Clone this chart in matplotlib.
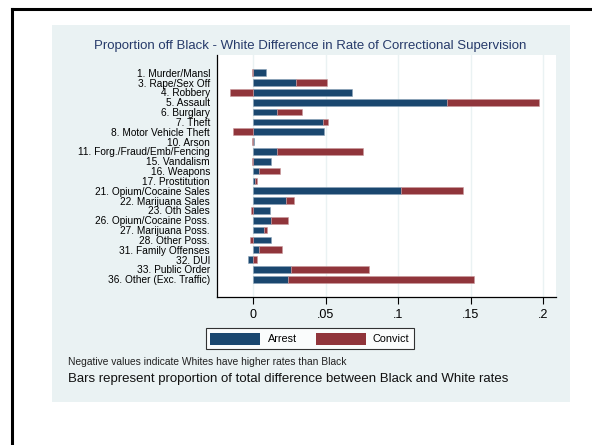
import numpy as np
import matplotlib
matplotlib.use("Agg")
import matplotlib.pyplot as plt
from matplotlib.patches import Patch
from matplotlib.lines import Line2D

plt.rcParams['font.family'] = ['Liberation Sans', 'DejaVu Sans']

# offence categories, top to bottom
offences = ["1. Murder/Mansl", "3. Rape/Sex Off", "4. Robbery", "5. Assault",
            "6. Burglary", "7. Theft", "8. Motor Vehicle Theft", "10. Arson",
            "11. Forg./Fraud/Emb/Fencing", "15. Vandalism", "16. Weapons",
            "17. Prostitution", "21. Opium/Cocaine Sales", "22. Marijuana Sales",
            "23. Oth Sales", "26. Opium/Cocaine Poss.", "27. Marijuana Poss.",
            "28. Other Poss.", "31. Family Offenses", "32. DUI",
            "33. Public Order", "36. Other (Exc. Traffic)"]

arrest = [0.0085, 0.0293, 0.0684, 0.1339, 0.0166, 0.0484, 0.0491, 0.0003,
          0.0164, 0.0120, 0.0037, 0.0010, 0.1021, 0.0223, 0.0115, 0.0124,
          0.0074, 0.0120, 0.0039, -0.0037, 0.0260, 0.0242]
convict = [-0.0006, 0.0214, -0.0164, 0.0636, 0.0168, 0.0032, -0.0143, -0.0007,
           0.0590, -0.0006, 0.0147, 0.0018, 0.0424, 0.0060, -0.0016, 0.0118,
           0.0020, -0.0021, 0.0159, 0.0023, 0.0540, 0.1283]

xticks = [0, 0.05, 0.1, 0.15, 0.2]
xticklabels = ["0", ".05", ".1", ".15", ".2"]

navy = '#1a476f'
maroon = '#90353b'
panel = '#eaf2f3'

W, H = 592, 445
fig = plt.figure(figsize=(W / 100, H / 100), dpi=100)
fig.patch.set_facecolor('white')

def px(x0, y0, x1, y1):
    # pixel box (top-left origin) -> figure fraction rect
    return [x0 / W, 1 - y1 / H, (x1 - x0) / W, (y1 - y0) / H]

# light graph region as a background axes
bg = fig.add_axes(px(52, 25, 570, 402), zorder=0)
bg.set_facecolor(panel)
bg.set_xticks([])
bg.set_yticks([])
for s in bg.spines.values():
    s.set_visible(False)

# black frame (left and top edges)
fig.lines.append(Line2D([11.5 / W, 11.5 / W], [0, 1 - 8.5 / H], transform=fig.transFigure,
                        color='black', lw=2.2))
fig.lines.append(Line2D([11.5 / W, 1], [1 - 8.5 / H, 1 - 8.5 / H], transform=fig.transFigure,
                        color='black', lw=2.2))

ax = fig.add_axes(px(217, 55, 556, 297), zorder=2)
ax.set_facecolor('white')

arrest = np.array(arrest)
convict = np.array(convict)
y = np.arange(len(offences))
conv_left = np.where(np.sign(convict) == np.sign(arrest), arrest, 0)

h = 0.68
ax.barh(y, arrest, height=h, color=navy, edgecolor='#8ba3b8', linewidth=0.4, zorder=3)
ax.barh(y, convict, left=conv_left, height=h, color=maroon, edgecolor='#c99a9d',
        linewidth=0.4, zorder=3)

ax.set_xlim(-0.0251, 0.209)
ax.set_ylim(len(offences) - 1 + 1.8, -1.8)
ax.set_yticks(y)
ax.set_yticklabels(offences, fontsize=7.3)
ax.tick_params(axis='y', length=0, pad=5)
ax.set_xticks(xticks)
ax.set_xticklabels(xticklabels, fontsize=9)
ax.tick_params(axis='x', length=5, width=0.8, pad=4)
ax.grid(axis='x', color=panel, lw=1.0, zorder=0)
ax.set_axisbelow(True)
for s in ['top', 'right']:
    ax.spines[s].set_visible(False)
for s in ['left', 'bottom']:
    ax.spines[s].set_linewidth(0.9)

fig.text(310 / W, 1 - 46 / H, "Proportion off Black - White Difference in Rate of Correctional Supervision",
         ha='center', va='center', fontsize=9.5, color='#263a6a', zorder=3)

handles = [Patch(facecolor=navy, edgecolor='none'), Patch(facecolor=maroon, edgecolor='none')]
leg = fig.legend(handles, ["Arrest", "Convict"], loc='center', bbox_to_anchor=(310 / W, 1 - 338.8 / H),
                 ncol=2, fontsize=7.8, frameon=True, fancybox=False, handlelength=4.6, handleheight=1.27,
                 columnspacing=1.76, handletextpad=0.68, borderpad=0.45, borderaxespad=0)
leg.get_frame().set_edgecolor('black')
leg.get_frame().set_linewidth(0.8)
leg.set_zorder(3)

fig.text(68 / W, 1 - 362 / H, "Negative values indicate Whites have higher rates than Black",
         ha='left', va='center', fontsize=7.4, color='#222222', zorder=3)
fig.text(68 / W, 1 - 379 / H, "Bars represent proportion of total difference between Black and White rates",
         ha='left', va='center', fontsize=9.5, color='#111111', zorder=3)

fig.savefig("out.png", dpi=100, facecolor='white')
